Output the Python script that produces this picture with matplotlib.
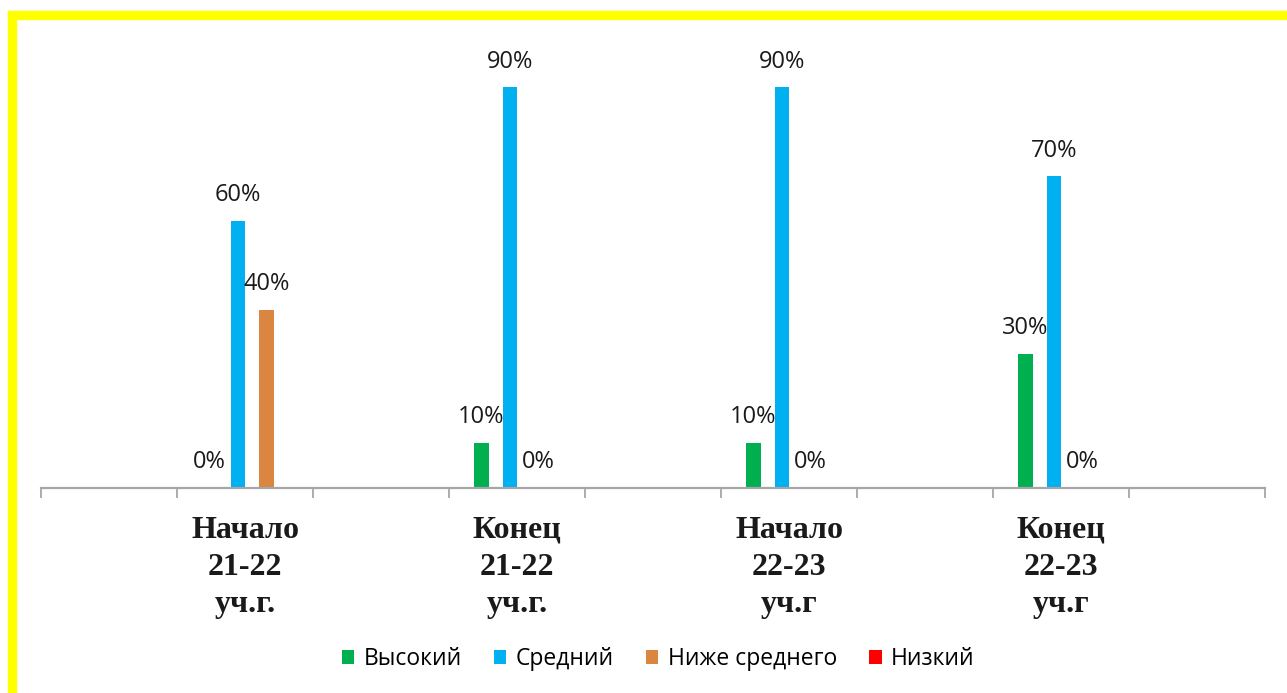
import numpy as np
import matplotlib
matplotlib.use('Agg')
import matplotlib.pyplot as plt
from matplotlib.patches import Rectangle

# Data (percent)
categories = ['Начало\n21-22\nуч.г.', 'Конец\n21-22\nуч.г.',
              'Начало\n22-23\nуч.г', 'Конец\n22-23\nуч.г']
series_names = ['Высокий', 'Средний', 'Ниже среднего', 'Низкий']
vysokiy = [0, 10, 10, 30]
sredniy = [60, 90, 90, 70]
nizhe_srednego = [40, 0, 0, 0]
nizkiy = [np.nan, np.nan, np.nan, np.nan]

colors = ['#00B050', '#00B0F0', '#DA8540', '#FF0000']
series = [vysokiy, sredniy, nizhe_srednego, nizkiy]

W, H = 1287, 693
fig = plt.figure(figsize=(W / 100, H / 100), dpi=100)

# axes placed in pixel terms of the reference
x0, x1, y0, y1 = 41, 1265, 487.5, 43
ax = fig.add_axes([x0 / W, (H - y0) / H, (x1 - x0) / W, (y0 - y1) / H])

centers = 1.5 + 2 * np.arange(len(categories))
step = 0.2096
width = 0.104
first = -0.261

bars = []
for j, (name, vals, col) in enumerate(zip(series_names, series, colors)):
    xs = centers + first + step * j
    b = ax.bar(xs, vals, width=width, color=col, label=name)
    bars.append(b)
    for x, v in zip(xs, vals):
        if np.isnan(v):
            continue
        ax.annotate(f'{v:.0f}%', xy=(x, v), xytext=(0, 18.5), textcoords='offset points',
                    ha='center', va='center', fontsize=17, family='Open Sans', color='#1a1a1a')

ax.set_xlim(0, 9)
ax.set_ylim(0, 100)
ax.set_yticks([])
ax.set_xticks(np.arange(0, 10))
ax.set_xticklabels([])
ax.tick_params(axis='x', length=7.5, width=1.3, color='#A6A6A6', direction='out')
for s in ['top', 'right', 'left']:
    ax.spines[s].set_visible(False)
ax.spines['bottom'].set_color('#A6A6A6')
ax.spines['bottom'].set_linewidth(1.6)
ax.patch.set_alpha(0)

for c, lab in zip(centers, categories):
    ax.annotate(lab, xy=(c, 0), xytext=(0, -20.5), textcoords='offset points',
                ha='center', va='top', multialignment='center', linespacing=1.36,
                fontsize=23, family='Liberation Serif', fontweight='bold', color='#1a1a1a')

fig.legend(handles=bars, labels=series_names, loc='center',
           bbox_to_anchor=(658 / W, 1 - 659 / H), ncol=4, frameon=False,
           prop={'family': 'Open Sans', 'size': 16.5},
           handlelength=0.55, handleheight=0.55, handletextpad=0.4, columnspacing=1.4)

# yellow frame, cut off on the right and bottom
fig.patches.append(Rectangle((8 / W, 0), 8 / W, (H - 11) / H, transform=fig.transFigure,
                             color='#FFFF00', zorder=5))
fig.patches.append(Rectangle((8 / W, (H - 19) / H), 1 - 8 / W, 8 / H, transform=fig.transFigure,
                             color='#FFFF00', zorder=5))

plt.savefig('out.png', dpi=100)
